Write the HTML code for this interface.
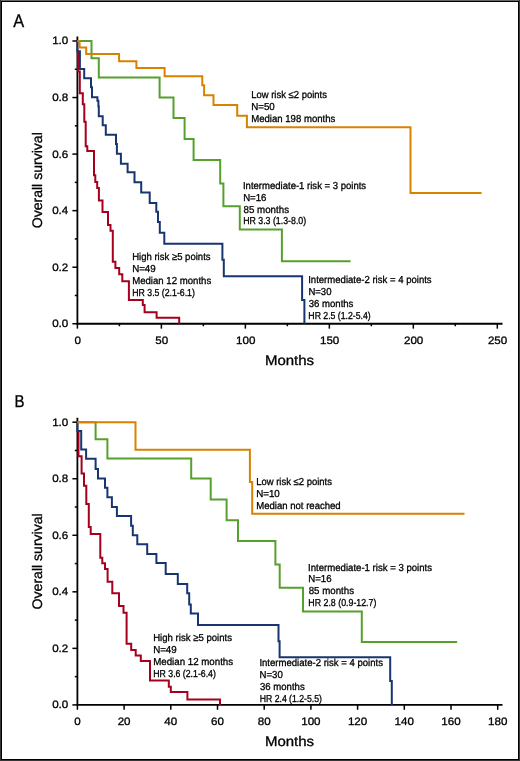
<!DOCTYPE html>
<html><head><meta charset="utf-8"><title>Survival curves</title>
<style>html,body{margin:0;padding:0;background:#fff;width:520px;height:761px;overflow:hidden}
body{position:relative;font-family:"Liberation Sans",sans-serif}</style></head>
<body>
<svg width="520" height="761" viewBox="0 0 520 761" style="position:absolute;left:0;top:0;will-change:transform">
<g shape-rendering="crispEdges">
<rect x="0" y="0" width="520" height="761" fill="#000"/>
<rect x="0" y="0" width="520" height="1" fill="#666"/>
<rect x="0" y="0" width="1" height="761" fill="#353535"/>
<rect x="519" y="0" width="1" height="761" fill="#3a3a3a"/>
<rect x="0" y="760" width="520" height="1" fill="#363636"/>
<rect x="2" y="2" width="516" height="757" fill="#fff"/>
</g>
<g font-family="Liberation Sans, sans-serif" fill="#000" stroke="#000" stroke-width="0.3" text-rendering="geometricPrecision">
<text x="68.3" y="327.15" font-size="10.8" text-anchor="end" textLength="16.14" lengthAdjust="spacingAndGlyphs">0.0</text>
<text x="68.3" y="270.60" font-size="10.8" text-anchor="end" textLength="16.14" lengthAdjust="spacingAndGlyphs">0.2</text>
<text x="68.3" y="214.05" font-size="10.8" text-anchor="end" textLength="16.14" lengthAdjust="spacingAndGlyphs">0.4</text>
<text x="68.3" y="157.50" font-size="10.8" text-anchor="end" textLength="16.14" lengthAdjust="spacingAndGlyphs">0.6</text>
<text x="68.3" y="100.95" font-size="10.8" text-anchor="end" textLength="16.14" lengthAdjust="spacingAndGlyphs">0.8</text>
<text x="68.3" y="44.40" font-size="10.8" text-anchor="end" textLength="16.14" lengthAdjust="spacingAndGlyphs">1.0</text>
<text x="68.3" y="708.30" font-size="10.8" text-anchor="end" textLength="16.14" lengthAdjust="spacingAndGlyphs">0.0</text>
<text x="68.3" y="651.76" font-size="10.8" text-anchor="end" textLength="16.14" lengthAdjust="spacingAndGlyphs">0.2</text>
<text x="68.3" y="595.22" font-size="10.8" text-anchor="end" textLength="16.14" lengthAdjust="spacingAndGlyphs">0.4</text>
<text x="68.3" y="538.68" font-size="10.8" text-anchor="end" textLength="16.14" lengthAdjust="spacingAndGlyphs">0.6</text>
<text x="68.3" y="482.14" font-size="10.8" text-anchor="end" textLength="16.14" lengthAdjust="spacingAndGlyphs">0.8</text>
<text x="68.3" y="425.60" font-size="10.8" text-anchor="end" textLength="16.14" lengthAdjust="spacingAndGlyphs">1.0</text>
<text x="77.70" y="343.7" font-size="10.8" text-anchor="middle" textLength="6.46" lengthAdjust="spacingAndGlyphs">0</text>
<text x="161.68" y="343.7" font-size="10.8" text-anchor="middle" textLength="12.91" lengthAdjust="spacingAndGlyphs">50</text>
<text x="245.66" y="343.7" font-size="10.8" text-anchor="middle" textLength="19.37" lengthAdjust="spacingAndGlyphs">100</text>
<text x="329.64" y="343.7" font-size="10.8" text-anchor="middle" textLength="19.37" lengthAdjust="spacingAndGlyphs">150</text>
<text x="413.62" y="343.7" font-size="10.8" text-anchor="middle" textLength="19.37" lengthAdjust="spacingAndGlyphs">200</text>
<text x="497.60" y="343.7" font-size="10.8" text-anchor="middle" textLength="19.37" lengthAdjust="spacingAndGlyphs">250</text>
<text x="77.40" y="725.1" font-size="10.8" text-anchor="middle" textLength="6.46" lengthAdjust="spacingAndGlyphs">0</text>
<text x="124.10" y="725.1" font-size="10.8" text-anchor="middle" textLength="12.91" lengthAdjust="spacingAndGlyphs">20</text>
<text x="170.80" y="725.1" font-size="10.8" text-anchor="middle" textLength="12.91" lengthAdjust="spacingAndGlyphs">40</text>
<text x="217.50" y="725.1" font-size="10.8" text-anchor="middle" textLength="12.91" lengthAdjust="spacingAndGlyphs">60</text>
<text x="264.20" y="725.1" font-size="10.8" text-anchor="middle" textLength="12.91" lengthAdjust="spacingAndGlyphs">80</text>
<text x="310.90" y="725.1" font-size="10.8" text-anchor="middle" textLength="19.37" lengthAdjust="spacingAndGlyphs">100</text>
<text x="357.60" y="725.1" font-size="10.8" text-anchor="middle" textLength="19.37" lengthAdjust="spacingAndGlyphs">120</text>
<text x="404.30" y="725.1" font-size="10.8" text-anchor="middle" textLength="19.37" lengthAdjust="spacingAndGlyphs">140</text>
<text x="451.00" y="725.1" font-size="10.8" text-anchor="middle" textLength="19.37" lengthAdjust="spacingAndGlyphs">160</text>
<text x="497.70" y="725.1" font-size="10.8" text-anchor="middle" textLength="19.37" lengthAdjust="spacingAndGlyphs">180</text>
<text x="289.5" y="364.8" font-size="13.8" text-anchor="middle" textLength="49.2" lengthAdjust="spacingAndGlyphs">Months</text>
<text x="289.5" y="746.2" font-size="13.8" text-anchor="middle" textLength="49.2" lengthAdjust="spacingAndGlyphs">Months</text>
<text transform="translate(42.0,180.25) rotate(-90)" font-size="13.9" text-anchor="middle" textLength="96.1" lengthAdjust="spacingAndGlyphs">Overall survival</text>
<text transform="translate(42.0,561.35) rotate(-90)" font-size="13.9" text-anchor="middle" textLength="96.1" lengthAdjust="spacingAndGlyphs">Overall survival</text>
<text transform="translate(13.2,26.6) scale(0.9,1)" font-size="18.2">A</text>
<text transform="translate(14.4,407.3) scale(0.87,1)" font-size="17.2">B</text>
<text x="251.19" y="97.70" font-size="10.1" textLength="75.78" lengthAdjust="spacingAndGlyphs">Low risk ≤2 points</text>
<text x="251.16" y="109.60" font-size="10.1" textLength="23.65" lengthAdjust="spacingAndGlyphs">N=50</text>
<text x="251.18" y="121.50" font-size="10.1" textLength="84.17" lengthAdjust="spacingAndGlyphs">Median 198 months</text>
<text x="242.98" y="188.80" font-size="10.1" textLength="123.18" lengthAdjust="spacingAndGlyphs">Intermediate-1 risk = 3 points</text>
<text x="243.17" y="200.65" font-size="10.1" textLength="23.33" lengthAdjust="spacingAndGlyphs">N=16</text>
<text x="243.58" y="212.50" font-size="10.1" textLength="45.42" lengthAdjust="spacingAndGlyphs">85 months</text>
<text x="243.17" y="224.35" font-size="10.1" textLength="63.00" lengthAdjust="spacingAndGlyphs">HR 3.3 (1.3-8.0)</text>
<text x="132.19" y="260.10" font-size="10.1" textLength="78.38" lengthAdjust="spacingAndGlyphs">High risk ≥5 points</text>
<text x="132.17" y="272.03" font-size="10.1" textLength="23.53" lengthAdjust="spacingAndGlyphs">N=49</text>
<text x="132.18" y="283.96" font-size="10.1" textLength="79.07" lengthAdjust="spacingAndGlyphs">Median 12 months</text>
<text x="132.25" y="295.89" font-size="10.1" textLength="62.62" lengthAdjust="spacingAndGlyphs">HR 3.5 (2.1-6.1)</text>
<text x="308.18" y="282.60" font-size="10.1" textLength="123.48" lengthAdjust="spacingAndGlyphs">Intermediate-2 risk = 4 points</text>
<text x="308.38" y="294.65" font-size="10.1" textLength="23.11" lengthAdjust="spacingAndGlyphs">N=30</text>
<text x="308.79" y="306.70" font-size="10.1" textLength="44.60" lengthAdjust="spacingAndGlyphs">36 months</text>
<text x="308.37" y="318.75" font-size="10.1" textLength="62.42" lengthAdjust="spacingAndGlyphs">HR 2.5 (1.2-5.4)</text>
<text x="256.19" y="484.80" font-size="10.1" textLength="75.78" lengthAdjust="spacingAndGlyphs">Low risk ≤2 points</text>
<text x="256.16" y="496.65" font-size="10.1" textLength="23.65" lengthAdjust="spacingAndGlyphs">N=10</text>
<text x="256.18" y="508.50" font-size="10.1" textLength="84.51" lengthAdjust="spacingAndGlyphs">Median not reached</text>
<text x="308.07" y="570.60" font-size="10.1" textLength="123.99" lengthAdjust="spacingAndGlyphs">Intermediate-1 risk = 3 points</text>
<text x="308.27" y="582.47" font-size="10.1" textLength="23.33" lengthAdjust="spacingAndGlyphs">N=16</text>
<text x="308.68" y="594.34" font-size="10.1" textLength="45.42" lengthAdjust="spacingAndGlyphs">85 months</text>
<text x="308.36" y="606.21" font-size="10.1" textLength="68.04" lengthAdjust="spacingAndGlyphs">HR 2.8 (0.9-12.7)</text>
<text x="153.18" y="640.80" font-size="10.1" textLength="78.89" lengthAdjust="spacingAndGlyphs">High risk ≥5 points</text>
<text x="153.17" y="652.70" font-size="10.1" textLength="23.53" lengthAdjust="spacingAndGlyphs">N=49</text>
<text x="153.17" y="664.60" font-size="10.1" textLength="79.99" lengthAdjust="spacingAndGlyphs">Median 12 months</text>
<text x="153.25" y="676.50" font-size="10.1" textLength="62.62" lengthAdjust="spacingAndGlyphs">HR 3.6 (2.1-6.4)</text>
<text x="259.38" y="666.20" font-size="10.1" textLength="123.58" lengthAdjust="spacingAndGlyphs">Intermediate-2 risk = 4 points</text>
<text x="259.58" y="678.03" font-size="10.1" textLength="23.22" lengthAdjust="spacingAndGlyphs">N=30</text>
<text x="259.99" y="689.86" font-size="10.1" textLength="44.70" lengthAdjust="spacingAndGlyphs">36 months</text>
<text x="259.76" y="701.69" font-size="10.1" textLength="62.12" lengthAdjust="spacingAndGlyphs">HR 2.4 (1.2-5.5)</text>
</g>
<path d="M77.4,36.5V323.75H502.5" fill="none" stroke="#000" stroke-width="1.8"/>
<path d="M72.4,323.75H77.4" stroke="#000" stroke-width="1.5"/>
<path d="M74.80000000000001,295.48H77.4" stroke="#000" stroke-width="1.5"/>
<path d="M72.4,267.20H77.4" stroke="#000" stroke-width="1.5"/>
<path d="M74.80000000000001,238.93H77.4" stroke="#000" stroke-width="1.5"/>
<path d="M72.4,210.65H77.4" stroke="#000" stroke-width="1.5"/>
<path d="M74.80000000000001,182.38H77.4" stroke="#000" stroke-width="1.5"/>
<path d="M72.4,154.10H77.4" stroke="#000" stroke-width="1.5"/>
<path d="M74.80000000000001,125.83H77.4" stroke="#000" stroke-width="1.5"/>
<path d="M72.4,97.55H77.4" stroke="#000" stroke-width="1.5"/>
<path d="M74.80000000000001,69.28H77.4" stroke="#000" stroke-width="1.5"/>
<path d="M72.4,41.00H77.4" stroke="#000" stroke-width="1.5"/>
<path d="M77.40,323.75V328.65" stroke="#000" stroke-width="1.5"/>
<path d="M161.38,323.75V328.65" stroke="#000" stroke-width="1.5"/>
<path d="M245.36,323.75V328.65" stroke="#000" stroke-width="1.5"/>
<path d="M329.34,323.75V328.65" stroke="#000" stroke-width="1.5"/>
<path d="M413.32,323.75V328.65" stroke="#000" stroke-width="1.5"/>
<path d="M497.30,323.75V328.65" stroke="#000" stroke-width="1.5"/>
<path d="M119.39,323.75V326.25" stroke="#000" stroke-width="1.5"/>
<path d="M203.37,323.75V326.25" stroke="#000" stroke-width="1.5"/>
<path d="M287.35,323.75V326.25" stroke="#000" stroke-width="1.5"/>
<path d="M371.33,323.75V326.25" stroke="#000" stroke-width="1.5"/>
<path d="M455.31,323.75V326.25" stroke="#000" stroke-width="1.5"/>
<path d="M77.4,417.7V704.9H502.5" fill="none" stroke="#000" stroke-width="1.8"/>
<path d="M72.4,704.90H77.4" stroke="#000" stroke-width="1.5"/>
<path d="M74.80000000000001,676.63H77.4" stroke="#000" stroke-width="1.5"/>
<path d="M72.4,648.36H77.4" stroke="#000" stroke-width="1.5"/>
<path d="M74.80000000000001,620.09H77.4" stroke="#000" stroke-width="1.5"/>
<path d="M72.4,591.82H77.4" stroke="#000" stroke-width="1.5"/>
<path d="M74.80000000000001,563.55H77.4" stroke="#000" stroke-width="1.5"/>
<path d="M72.4,535.28H77.4" stroke="#000" stroke-width="1.5"/>
<path d="M74.80000000000001,507.01H77.4" stroke="#000" stroke-width="1.5"/>
<path d="M72.4,478.74H77.4" stroke="#000" stroke-width="1.5"/>
<path d="M74.80000000000001,450.47H77.4" stroke="#000" stroke-width="1.5"/>
<path d="M72.4,422.20H77.4" stroke="#000" stroke-width="1.5"/>
<path d="M77.40,704.9V709.8" stroke="#000" stroke-width="1.5"/>
<path d="M124.10,704.9V709.8" stroke="#000" stroke-width="1.5"/>
<path d="M170.80,704.9V709.8" stroke="#000" stroke-width="1.5"/>
<path d="M217.50,704.9V709.8" stroke="#000" stroke-width="1.5"/>
<path d="M264.20,704.9V709.8" stroke="#000" stroke-width="1.5"/>
<path d="M310.90,704.9V709.8" stroke="#000" stroke-width="1.5"/>
<path d="M357.60,704.9V709.8" stroke="#000" stroke-width="1.5"/>
<path d="M404.30,704.9V709.8" stroke="#000" stroke-width="1.5"/>
<path d="M451.00,704.9V709.8" stroke="#000" stroke-width="1.5"/>
<path d="M497.70,704.9V709.8" stroke="#000" stroke-width="1.5"/>
<path d="M78.1,51.0V71.55H79.8V93.35H82.8V104.35H84.3V121.75H85.7V146.15H87.3V151.05H94.0V175.15H95.3V181.95H97.2V188.05H98.9V200.55H102.5V212.05H108.0V225.05H110.5V230.85H112.8V261.85H115.4V268.05H119.2V274.15H122.3V281.15H128.9V300.05H142.8V304.95H144.6V312.35H156.6V317.75H179.2V323.75" fill="none" stroke="#A5001E" stroke-width="2.0" stroke-linejoin="miter" stroke-linecap="butt"/>
<path d="M77.4,41.0V51.15H79.9V68.95H84.2V78.35H91.0V87.15H92.0V97.35H97.4V100.85H98.4V106.15H98.8V116.15H102.7V125.35H105.8V134.75H116.0V143.95H116.9V153.85H120.9V163.65H127.6V172.25H134.5V182.35H141.2V192.55H149.7V202.90H156.3V211.75H158.0V221.90H159.8V232.80H164.3V243.85H222.4V259.65H223.8V276.35H302.1V299.95H304.4V323.75" fill="none" stroke="#17366F" stroke-width="2.0" stroke-linejoin="miter" stroke-linecap="butt"/>
<path d="M77.4,41.0H91.5V58.35H98.8V77.55H159.6V97.55H173.5V118.05H184.6V138.95H193.6V160.05H220.2V183.55H223.4V206.25H239.8V229.55H281.9V261.15H350.6" fill="none" stroke="#56A02D" stroke-width="2.0" stroke-linejoin="miter" stroke-linecap="butt"/>
<path d="M77.4,41.0H79.6V47.55H86.2V53.95H119.1V61.25H136.4V67.95H164.6V76.15H202.3V85.35H204.1V95.35H213.5V104.95H237.2V115.85H246.9V127.30H410.5V193.05H481.6" fill="none" stroke="#D88200" stroke-width="2.0" stroke-linejoin="miter" stroke-linecap="butt"/>
<path d="M78.5,431.0V456.20H81.6V473.60H84.0V485.70H86.3V503.90H88.8V526.90H90.7V533.90H100.3V557.80H102.3V563.20H105.0V569.00H107.6V581.70H112.3V593.30H119.0V606.10H123.5V612.80H126.6V643.70H131.2V649.90H135.7V655.40H140.8V661.10H150.0V680.40H168.8V686.70H170.8V692.10H187.4V699.40H220.0V704.9" fill="none" stroke="#A5001E" stroke-width="2.0" stroke-linejoin="miter" stroke-linecap="butt"/>
<path d="M77.4,422.3V431.00H81.2V449.40H86.1V458.80H95.6V468.90H98.0V478.40H105.0V487.80H107.4V497.30H111.9V506.90H116.9V516.10H131.1V525.80H132.8V535.20H137.3V544.30H147.2V553.90H156.4V562.90H165.7V574.10H177.8V584.10H187.2V593.30H189.2V604.40H190.8V613.60H198.0V625.10H278.5V641.20H279.6V657.20H390.2V681.00H391.8V704.9" fill="none" stroke="#17366F" stroke-width="2.0" stroke-linejoin="miter" stroke-linecap="butt"/>
<path d="M77.4,422.3H95.6V439.30H107.4V458.60H191.2V478.50H210.7V499.40H226.6V520.20H238.0V541.00H275.4V564.50H279.7V587.80H303.0V611.60H361.8V642.00H457.1" fill="none" stroke="#56A02D" stroke-width="2.0" stroke-linejoin="miter" stroke-linecap="butt"/>
<path d="M77.4,422.3H135.5V449.80H249.9V481.90H252.2V513.70H464.5" fill="none" stroke="#D88200" stroke-width="2.0" stroke-linejoin="miter" stroke-linecap="butt"/>
</svg>
</body></html>
